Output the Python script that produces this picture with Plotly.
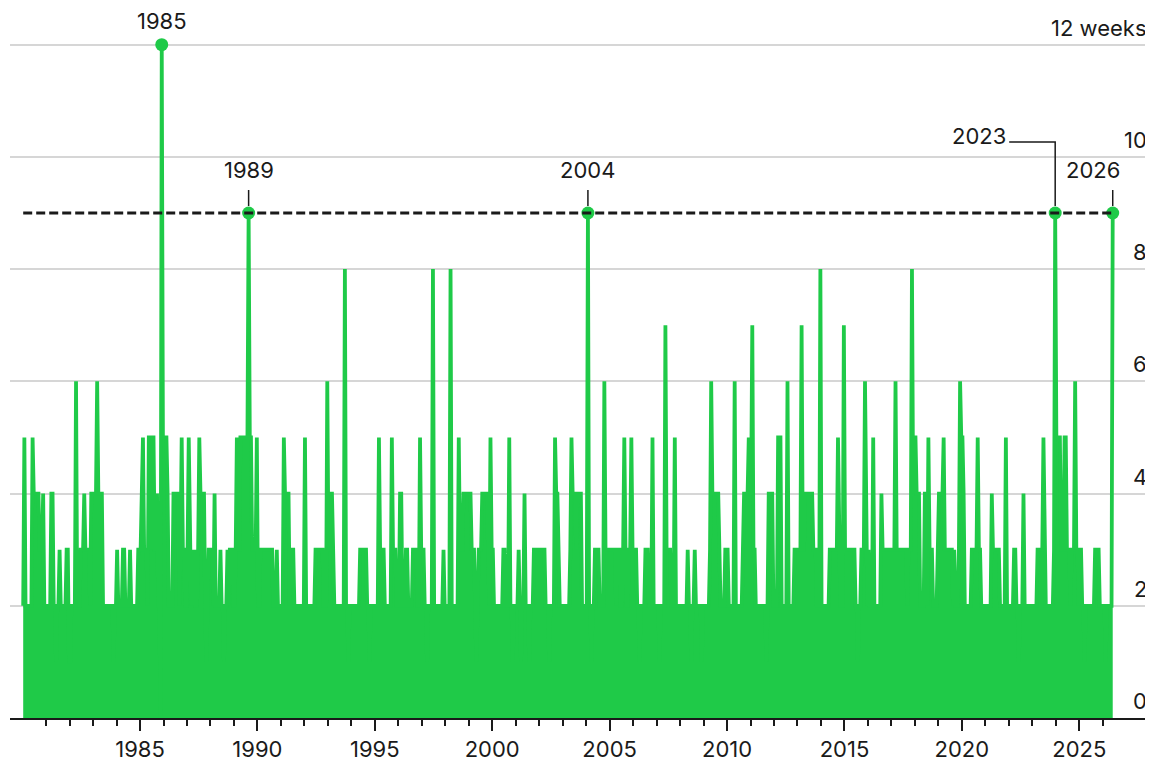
import plotly.graph_objects as go

green = "#1fca48"
ink = "#1a1a1a"
grid_col = "#d6d6d6"
font_family = "Inter, 'Liberation Sans', Arial, sans-serif"

# streak length readings, 20 per calendar year (hex digit, c = 12)
years = list(range(1980, 2027))
streaks = [
    "25222222544444333422",  # 1980
    "22224422122322222331",
    "12222622233343333244",
    "44464444222222222122",
    "32222332222322222233",
    "345333255355334220C5",  # 1985
    "55542222444442353322",
    "35323232235444421233",
    "33242222322122323332",
    "23533555555595533335",
    "22333333333332223222",  # 1990
    "22544442333222222222",
    "52222222233333332226",
    "33443222222222822122",
    "22222223333332212222",
    "22253333222222533322",  # 1995
    "24422233222233332253",
    "33221222282222222232",
    "22228222222533344444",
    "44333212333444443253",
    "32222222233222522122",  # 2000
    "22321224222122233333",
    "33333222122225443222",
    "22222235444344442222",
    "29221223333222263333",
    "33333233322353223353",  # 2005
    "33322122223332225222",
    "22122227333322252222",
    "22222232212232222212",
    "22222364444443222233",
    "32222262222223444454",  # 2010
    "47332222222221244442",
    "22255522222622222333",
    "33373344444443332228",
    "22222223333333532227",
    "33333333322122333632",  # 2015
    "32225222222433333333",
    "33363333333332333845",
    "54442222442533322223",
    "44445333333323222365",
    "54222222333335332222",  # 2020
    "22222433333322222522",
    "22223322122242222222",
    "22223333353222222239",
    "55553335533323336332",
    "33221222222223333222",  # 2025
    "221222229",
]

x_ticks = [1985, 1990, 1995, 2000, 2005, 2010, 2015, 2020, 2025]
minor_ticks = [y for y in range(1981, 2027) if y % 5 != 0]
y_ticks = [0, 2, 4, 6, 8, 10, 12]
y_tick_text = ["0", "2", "4", "6", "8", "10", "12 weeks"]
record = 9
callout_text = ["1985", "1989", "2004", "2023", "2026"]

xs, ys = [], []
for yr, s in zip(years, streaks):
    for i, ch in enumerate(s):
        xs.append(yr + (i + 0.5) / 20)
        ys.append(int(ch, 16))

peak_x = [x for x, y in zip(xs, ys) if y >= record]
peak_y = [y for y in ys if y >= record]

fig = go.Figure()

fig.add_trace(go.Scatter(
    x=xs, y=ys, mode="lines",
    line=dict(color=green, width=3.8),
    fill="tozeroy", fillcolor=green,
    hoverinfo="skip",
))

fig.add_trace(go.Scatter(
    x=peak_x, y=peak_y, mode="markers",
    marker=dict(color=green, size=13),
    cliponaxis=False, hoverinfo="skip",
))

fig.add_trace(go.Scatter(
    x=[xs[0], peak_x[-1]], y=[record, record], mode="lines",
    line=dict(color=ink, width=3, dash="9px,4px"),
    hoverinfo="skip",
))

# callouts: x shift, y shift, anchor, leader
callout_style = [
    (0, 24, "center", None),
    (0, 43, "center", "tick"),
    (0, 43, "center", "tick"),
    (-47, 77, "right", "elbow"),
    (-20, 43, "center", "tick"),
]

for txt, px_, py_, (dx, dy, anchor, leader) in zip(callout_text, peak_x, peak_y, callout_style):
    fig.add_annotation(
        x=px_, y=py_, xref="x", yref="y", text=txt, showarrow=False,
        xanchor=anchor, yanchor="middle", xshift=dx, yshift=dy,
        font=dict(size=22, color=ink, family=font_family),
    )
    if leader == "tick":
        path = "M 0 23 L 0 7"
    elif leader == "elbow":
        path = "M -46 71 L 0 71 L 0 7"
    else:
        continue
    fig.add_shape(
        type="path", xref="x", yref="y",
        xsizemode="pixel", ysizemode="pixel",
        xanchor=px_, yanchor=py_, path=path,
        line=dict(color=ink, width=1.5),
    )

for v, t in zip(y_ticks, y_tick_text):
    fig.add_annotation(
        x=1, xref="paper", y=v, yref="y", text=t, showarrow=False,
        xanchor="right", yanchor="bottom", yshift=2,
        font=dict(size=22, color=ink, family=font_family),
    )

# page body has an 8px margin, so the figure is sized to sit inside the window
fig.update_layout(
    width=1145, height=756,
    margin=dict(l=2, r=4, t=35, b=42),
    paper_bgcolor="white", plot_bgcolor="white",
    showlegend=False,
    font=dict(family=font_family, color=ink),
)

fig.update_xaxes(
    range=[1979.463, 2027.97],
    tickvals=x_ticks, ticktext=[str(t) for t in x_ticks],
    ticks="outside", ticklen=11, tickwidth=1.5, tickcolor=ink,
    minor=dict(tickvals=minor_ticks, ticks="outside", ticklen=6,
               tickwidth=1.5, tickcolor=ink),
    showgrid=False, zeroline=False,
    showline=True, linecolor=ink, linewidth=1.5,
    layer="below traces",
    tickfont=dict(size=22, color=ink, family=font_family),
)

fig.update_yaxes(
    range=[0, 12.03], tickvals=y_ticks[1:], showticklabels=False,
    showgrid=True, gridcolor=grid_col, gridwidth=1.5,
    zeroline=False, ticks="",
    layer="below traces",
)

fig.write_html("out.html")
